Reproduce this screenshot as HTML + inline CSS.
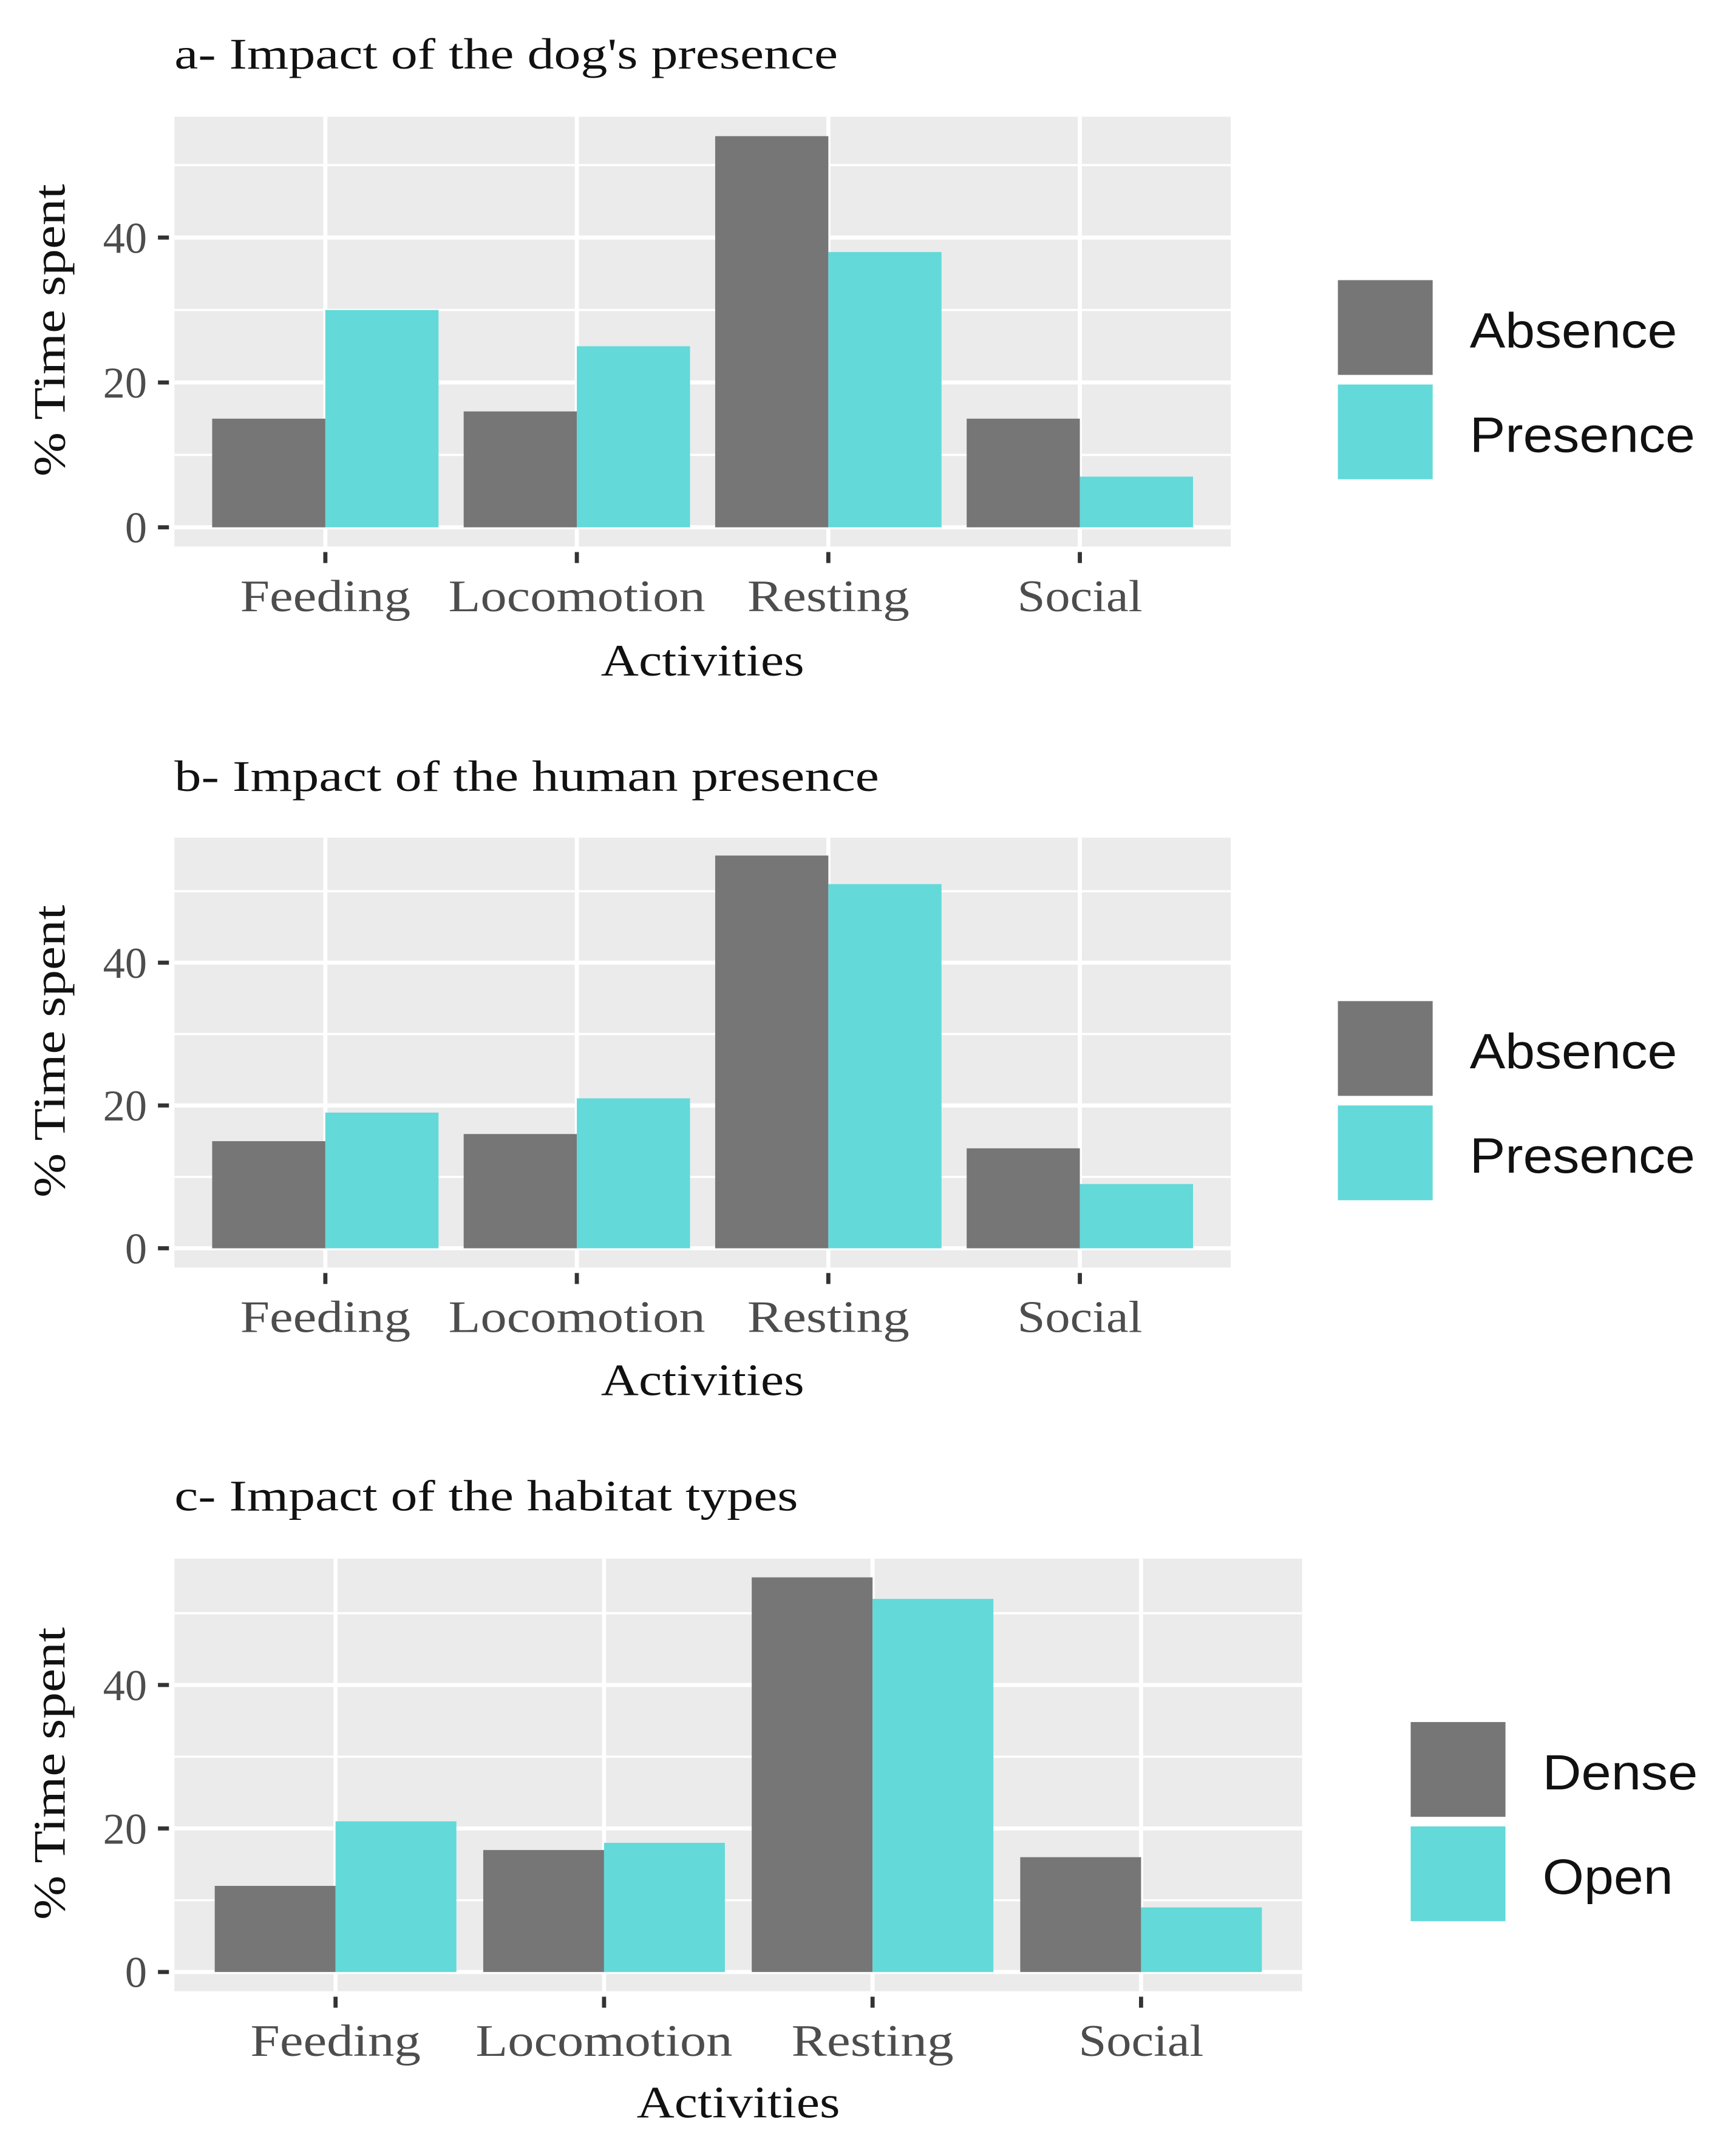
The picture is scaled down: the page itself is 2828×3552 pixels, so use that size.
<!DOCTYPE html>
<html><head><meta charset="utf-8"><style>
html,body{margin:0;padding:0;background:#fff;}
svg{display:block;}
</style></head><body>
<svg id="fig" xmlns="http://www.w3.org/2000/svg" width="2828" height="3552" viewBox="0 0 1250 1570" preserveAspectRatio="none"></svg>
<script>
const categories = ["Feeding","Locomotion","Resting","Social"];
const yTicks = [0,20,40];
const yMinor = [10,30,50];
const titles = ["a- Impact of the dog's presence","b- Impact of the human presence","c- Impact of the habitat types"];
const legendA = ["Absence","Presence"];
const legendB = ["Absence","Presence"];
const legendC = ["Dense","Open"];
const dogAbsence = [15,16,54,15];
const dogPresence = [30,25,38,7];
const humanAbsence = [15,16,55,14];
const humanPresence = [19,21,51,9];
const habitatDense = [12,17,55,16];
const habitatOpen = [21,18,52,9];

const NS="http://www.w3.org/2000/svg";
const svg=document.getElementById('fig');
function el(tag,attrs,parent,text){const e=document.createElementNS(NS,tag);for(const k in attrs)e.setAttribute(k,attrs[k]);if(text!==undefined)e.textContent=text;(parent||svg).appendChild(e);return e;}
const COLS=["#767676","#63d9d9"];
const serif='"Liberation Serif", serif';
const sans='"Liberation Sans", sans-serif';
const titleW=[483,513,454];
const catW={Feeding:124,Locomotion:187,Resting:118,Social:91};
const legW={Absence:151,Presence:164,Dense:113,Open:95};

const panels=[
 {x0:127,x1:896,y0:85,y1:398,zero:384,y40:173,titleY:50,actY:492,legX:974,legTextX:1070,legY:[204,280],labels:legendA,s1:dogAbsence,s2:dogPresence,name:'dog'},
 {x0:127,x1:896,y0:610,y1:923,zero:909,y40:701,titleY:576,actY:1016,legX:974,legTextX:1070,legY:[729,805],labels:legendB,s1:humanAbsence,s2:humanPresence,name:'human'},
 {x0:127,x1:948,y0:1135,y1:1450,zero:1436,y40:1227,titleY:1100,actY:1542,legX:1027,legTextX:1123,legY:[1254,1330],labels:legendC,s1:habitatDense,s2:habitatOpen,name:'habitat'}
];

panels.forEach((p,pi)=>{
  const g=el('g',{});
  
  
  const yS=v=>p.zero-(p.zero-p.y40)*v/40;
  const n=categories.length;
  const step=(p.x1-p.x0)/(n+0.2);
  const xS=i=>p.x0+step*0.6+step*i;
  const t=el('text',{x:p.x0,y:p.titleY,'font-family':serif,'font-size':32,fill:'#111',textLength:titleW[pi],lengthAdjust:'spacingAndGlyphs'},g,titles[pi]);
  
  
  const bg=el('rect',{x:p.x0,y:p.y0,width:p.x1-p.x0,height:p.y1-p.y0,fill:'#ebebeb'},g);
  
  
  yMinor.forEach(v=>{const l=el('line',{x1:p.x0,x2:p.x1,y1:yS(v),y2:yS(v),stroke:'#fff','stroke-width':1.6},g);
    });
  yTicks.forEach(v=>{const l=el('line',{x1:p.x0,x2:p.x1,y1:yS(v),y2:yS(v),stroke:'#fff','stroke-width':3},g);
    
    const tk=el('line',{x1:p.x0-12,x2:p.x0-4,y1:yS(v),y2:yS(v),stroke:'#333','stroke-width':3},g);
    
    const tl=el('text',{x:p.x0-20,y:yS(v)+11,'text-anchor':'end','font-family':serif,'font-size':32,fill:'#4d4d4d'},g,String(v));
    });
  categories.forEach((c,i)=>{const cx=xS(i);
    const l=el('line',{x1:cx,x2:cx,y1:p.y0,y2:p.y1,stroke:'#fff','stroke-width':3},g);
    });
  const bw=step*0.45;
  [p.s1,p.s2].forEach((ser,si)=>{
    ser.forEach((v,i)=>{const cx=xS(i);
      const r=el('rect',{x:cx-bw+si*bw,y:yS(v),width:bw,height:yS(0)-yS(v),fill:COLS[si]},g);
      
      });
  });
  categories.forEach((c,i)=>{const cx=xS(i);
    const tk=el('line',{x1:cx,x2:cx,y1:p.y1+4,y2:p.y1+12,stroke:'#333','stroke-width':3},g);
    
    const tl=el('text',{x:cx,y:p.y1+47,'text-anchor':'middle','font-family':serif,'font-size':33,fill:'#4d4d4d',textLength:catW[c],lengthAdjust:'spacingAndGlyphs'},g,c);
    });
  const ax=el('text',{x:(p.x0+p.x1)/2,y:p.actY,'text-anchor':'middle','font-family':serif,'font-size':33,fill:'#111',textLength:148,lengthAdjust:'spacingAndGlyphs'},g,'Activities');
  
  const yc=(p.y0+p.y1)/2;
  const ay=el('text',{x:0,y:0,transform:`translate(47,${yc-1}) rotate(-90)`,'text-anchor':'middle','font-family':serif,'font-size':33,fill:'#111',textLength:213,lengthAdjust:'spacingAndGlyphs'},g,'% Time spent');
  
  p.labels.forEach((lab,li)=>{
    const k=el('rect',{x:p.legX,y:p.legY[li],width:69,height:69,fill:COLS[li]},g);
    
    const lt=el('text',{x:p.legTextX,y:p.legY[li]+49,'font-family':sans,'font-size':36,fill:'#111',textLength:legW[lab],lengthAdjust:'spacingAndGlyphs'},g,lab);
    
  });
});
</script>
</body></html>
